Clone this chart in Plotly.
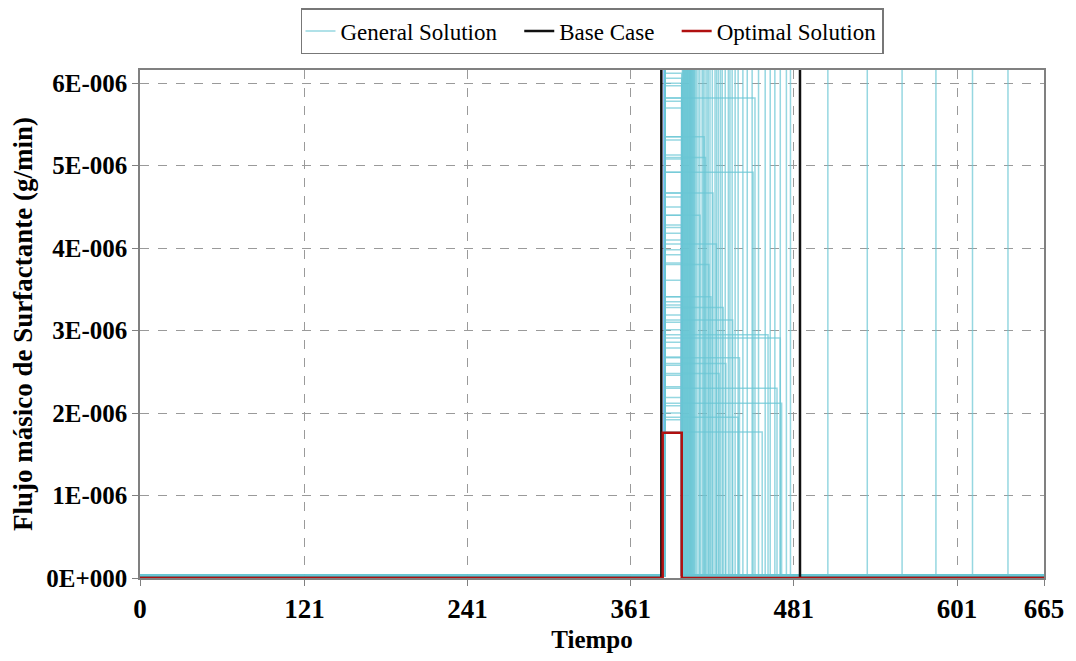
import plotly.graph_objects as go

# time axis
t_min = 0
t_max = 665
x_tickvals = [0, 121, 241, 361, 481, 601, 665]

y_tickvals = [0, 1e-6, 2e-6, 3e-6, 4e-6, 5e-6, 6e-6]
y_ticktext = ["0E+000", "1E-006", "2E-006", "3E-006", "4E-006", "5E-006", "6E-006"]

# General Solution: rectangular injection pulses (start, end, rate)
gen_baseline = 3e-8
gen_start = 386
gen_end = [
    # short pulses
    398.5, 398.5, 398.5, 398.5, 398.5, 398.5, 398.5, 398.5, 398.5, 398.5,
    398.5, 398.5, 398.5, 398.5, 398.5, 398.5, 398.5, 398.5, 398.5, 398.5,
    398.5, 398.5, 398.5, 398.5, 398.5, 398.5, 398.5, 398.5, 398.5, 398.5,
    398.5, 398.5, 398.5, 398.5, 398.5, 398.5, 398.5, 398.5, 398.5, 398.5,
    # dense cluster just after
    399.0, 399.5, 399.8, 400.2, 400.5, 400.9, 401.2, 401.6, 402.0, 402.3,
    402.7, 403.0, 403.4, 403.8, 404.1, 404.5, 404.9, 405.2, 405.6, 406.0,
    406.4, 406.8, 407.3, 407.8, 408.3,
    # spread, off the top
    409.2, 410.5, 411.8, 413.5, 414.4, 415.6, 417.0, 418.0, 419.3, 421.0,
    423.0, 424.2, 425.5, 427.0, 428.3, 430.5, 432.8, 434.0, 435.6, 437.8,
    440.0, 443.5, 446.7, 450.3, 455.0, 459.9, 463.6, 467.0, 471.0, 475.5, 478.5,
    # spread, visible tops
    452.4, 451, 421.5, 429, 436, 462, 471, 441, 468.6, 472,
    440, 457.7, 415, 416, 426, 420, 412, 418.5, 431, 424,
    # long pulses past the base case
    506, 535, 560.6, 585.5, 612.4, 638.5,
]
gen_rate = [
    6.12e-6, 6.06e-6, 6.00e-6, 5.97e-6, 5.82e-6, 5.78e-6, 5.70e-6, 5.35e-6, 5.31e-6, 5.13e-6,
    5.08e-6, 4.92e-6, 4.67e-6, 4.62e-6, 4.50e-6, 4.40e-6, 4.28e-6, 4.25e-6, 4.18e-6, 4.10e-6,
    3.98e-6, 3.92e-6, 3.82e-6, 3.61e-6, 3.41e-6, 3.35e-6, 3.31e-6, 3.19e-6, 3.10e-6, 3.01e-6,
    2.86e-6, 2.79e-6, 2.68e-6, 2.58e-6, 2.46e-6, 2.32e-6, 2.19e-6, 2.09e-6, 2.00e-6, 1.92e-6,
    7e-6, 7e-6, 7e-6, 7e-6, 7e-6, 7e-6, 7e-6, 7e-6, 7e-6, 7e-6,
    7e-6, 7e-6, 7e-6, 7e-6, 7e-6, 7e-6, 7e-6, 7e-6, 7e-6, 7e-6,
    7e-6, 7e-6, 7e-6, 7e-6, 7e-6,
    7e-6, 7e-6, 7e-6, 7e-6, 7e-6, 7e-6, 7e-6, 7e-6, 7e-6, 7e-6,
    7e-6, 7e-6, 7e-6, 7e-6, 7e-6, 7e-6, 7e-6, 7e-6, 7e-6, 7e-6,
    7e-6, 7e-6, 7e-6, 7e-6, 7e-6, 7e-6, 7e-6, 7e-6, 7e-6, 7e-6, 7e-6,
    5.82e-6, 4.92e-6, 4.67e-6, 3.28e-6, 3.13e-6, 2.95e-6, 2.91e-6, 2.67e-6, 2.30e-6, 2.12e-6,
    1.95e-6, 1.77e-6, 5.35e-6, 5.10e-6, 2.48e-6, 3.41e-6, 4.40e-6, 3.80e-6, 2.60e-6, 4.05e-6,
    7e-6, 7e-6, 7e-6, 7e-6, 7e-6, 7e-6,
]

# Base Case pulse
base_start = 383.5
base_end = 485.5
base_rate = 8e-6

# Optimal Solution pulse
opt_start = 384.5
opt_end = 398.5
opt_rate = 1.76e-6


def pulse(start, end, rate, baseline):
    xs = [t_min, start, start, end, end, t_max]
    ys = [baseline, baseline, rate, rate, baseline, baseline]
    return xs, ys


SERIF = "Liberation Serif"
NBSP = "\u00a0"
fig = go.Figure()

for i, (end, rate) in enumerate(zip(gen_end, gen_rate)):
    xs, ys = pulse(gen_start, end, rate, gen_baseline)
    fig.add_trace(go.Scatter(
        x=xs, y=ys, mode="lines",
        line=dict(color="rgba(105,198,212,0.7)", width=1.5),
        name="General Solution" + NBSP * 3, legendgroup="gen",
        showlegend=(i == 0), hoverinfo="skip"
    ))

xs, ys = pulse(base_start, base_end, base_rate, 0)
fig.add_trace(go.Scatter(x=xs, y=ys, mode="lines", name="Base Case" + NBSP * 3,
                         line=dict(color="#111111", width=2.5)))

xs, ys = pulse(opt_start, opt_end, opt_rate, 0)
fig.add_trace(go.Scatter(x=xs, y=ys, mode="lines", name="Optimal Solution",
                         line=dict(color="#B01010", width=2.5)))

# page body adds an 8px offset, so the figure is sized to fit the window
fig.update_layout(
    width=1060, height=645,
    margin=dict(l=132, r=24, t=62, b=75),
    plot_bgcolor="white", paper_bgcolor="white",
    font=dict(family=SERIF, color="black"),
    legend=dict(
        orientation="h", x=0.5, xanchor="center",
        yref="container", y=1.0, yanchor="top",
        bordercolor="#777777", borderwidth=1.5,
        font=dict(family=SERIF, size=23),
        itemwidth=30, tracegroupgap=0,
    ),
    xaxis=dict(
        range=[t_min, t_max], tickvals=x_tickvals, automargin=False,
        showline=True, mirror=True, linecolor="#808080", linewidth=1.5,
        ticks="outside", ticklen=6, tickcolor="#808080", layer="below traces",
        showgrid=True, gridcolor="#9a9a9a", griddash="dash", gridwidth=1,
        zeroline=False,
        tickfont=dict(family=SERIF, size=27, weight="bold"),
        title=dict(text="Tiempo", font=dict(family=SERIF, size=25, weight="bold"), standoff=15),
    ),
    yaxis=dict(
        range=[0, 6.16e-6], tickvals=y_tickvals, ticktext=y_ticktext, automargin=False,
        showline=True, mirror=True, linecolor="#808080", linewidth=1.5,
        ticks="outside", ticklen=6, tickcolor="#808080", layer="below traces",
        showgrid=True, gridcolor="#9a9a9a", griddash="dash", gridwidth=1,
        zeroline=False,
        tickfont=dict(family=SERIF, size=25, weight="bold"),
        title=dict(text="Flujo másico de Surfactante (g/min)",
                   font=dict(family=SERIF, size=27, weight="bold"), standoff=8),
    ),
)

fig.write_html("out.html")
